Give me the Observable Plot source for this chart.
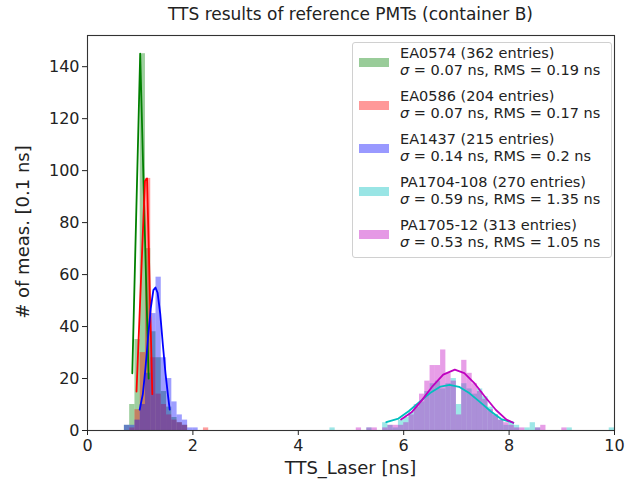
<!DOCTYPE html>
<html><head><meta charset="utf-8">
<script src="https://cdn.jsdelivr.net/npm/d3@7"></script>
<script src="https://cdn.jsdelivr.net/npm/@observablehq/plot@0.6"></script>
<style>
body{margin:0;background:#fff;font-family:"DejaVu Sans",sans-serif;}
#wrap{position:relative;width:628px;height:486px;overflow:hidden;}
#title{position:absolute;left:87px;width:527px;top:0;height:26px;line-height:28px;text-align:center;font-size:17px;color:#222;white-space:nowrap;}
#chart{position:absolute;left:0;top:26px;}
#xlabel{position:absolute;left:87px;width:527px;top:457px;text-align:center;font-size:18px;line-height:22px;color:#222;white-space:nowrap;}
#ylabel{position:absolute;left:23px;top:232px;transform:translate(-50%,-50%) rotate(-90deg);font-size:18px;line-height:22px;color:#222;white-space:nowrap;}
#legend{position:absolute;left:352px;top:42px;width:260px;height:216px;border:1px solid #d0d0d0;border-radius:3px;box-sizing:border-box;background:rgba(255,255,255,0.8);}
.entry{position:absolute;left:0;width:100%;height:34px;}
.patch{position:absolute;left:6px;top:13px;width:30px;height:9px;}
.txt{position:absolute;left:47px;top:0;font-size:14.5px;line-height:17px;white-space:nowrap;color:#222;}
</style>
</head><body>
<div id="wrap">
  <div id="title">TTS results of reference PMTs (container B)</div>
  <div id="chart"></div>
  <div id="xlabel">TTS_Laser [ns]</div>
  <div id="ylabel"># of meas. [0.1 ns]</div>
  <div id="legend"></div>
</div>
<script>
// ---- data ----
const binWidth = 0.1;
const xTicks = [0, 2, 4, 6, 8, 10];
const yTicks = [0, 20, 40, 60, 80, 100, 120, 140];

const names = ["EA0574 (362 entries)", "EA0586 (204 entries)", "EA1437 (215 entries)", "PA1704-108 (270 entries)", "PA1705-12 (313 entries)"];
const stats = ["0.07 ns, RMS = 0.19 ns", "0.07 ns, RMS = 0.17 ns", "0.14 ns, RMS = 0.2 ns", "0.59 ns, RMS = 1.35 ns", "0.53 ns, RMS = 1.05 ns"];
const colors = ["#008000", "#ff0000", "#0000ff", "#00bfbf", "#bf00bf"];

// histogram bin starts and counts
const greenStarts = [0.7, 0.8, 0.9, 1.0, 1.1, 1.2, 1.3, 1.4, 1.5, 1.6, 1.7, 1.8];
const greenCounts = [2, 10, 35, 145, 70, 38, 28, 15, 9, 5, 3, 2];
const redStarts = [0.8, 0.9, 1.0, 1.1, 1.2, 1.3, 1.4, 1.5, 1.6, 1.7, 1.8, 2.2];
const redCounts = [1, 8, 30, 97, 28, 14, 10, 6, 4, 3, 2, 1];
const blueStarts = [0.7, 0.8, 0.9, 1.0, 1.1, 1.2, 1.3, 1.4, 1.5, 1.6, 1.7, 1.8, 1.9, 2.0];
const blueCounts = [2, 2, 4, 10, 22, 45, 59, 28, 20, 11, 6, 4, 1, 1];
const cyanStarts = [4.6, 5.3, 5.6, 5.7, 5.8, 5.9, 6.0, 6.1, 6.2, 6.3, 6.4, 6.5, 6.6, 6.7, 6.8, 6.9, 7.0, 7.1, 7.2, 7.3, 7.4, 7.5, 7.6, 7.7, 7.8, 7.9, 8.0, 8.1, 8.3, 8.4, 8.5, 9.1, 9.9];
const cyanCounts = [1, 1, 3, 2, 1, 4, 5, 7, 9, 11, 15, 18, 19, 16, 18, 20, 10, 18, 16, 14, 16, 13, 9, 6, 4, 2, 3, 2, 1, 3, 1, 1, 1];
const magentaStarts = [5.1, 5.3, 5.4, 5.6, 5.7, 5.8, 5.9, 6.0, 6.1, 6.2, 6.3, 6.4, 6.5, 6.6, 6.7, 6.8, 6.9, 7.0, 7.1, 7.2, 7.3, 7.4, 7.5, 7.6, 7.7, 7.8, 7.9, 8.0, 8.1, 8.2, 8.5, 8.6, 9.0];
const magentaCounts = [1, 1, 1, 1, 2, 2, 2, 3, 6, 10, 14, 19, 25, 25, 31, 22, 19, 6, 27, 22, 18, 15, 12, 8, 6, 4, 3, 2, 1, 1, 1, 2, 1];

// Gaussian fit curves
const greenFitX = [0.85, 1.0, 1.16];
const greenFitY = [22, 145, 20];
const redFitX = [0.93, 1.09, 1.13, 1.23];
const redFitY = [15, 96, 97, 14];
const blueFitX = [0.99, 1.05, 1.10, 1.15, 1.20, 1.25, 1.29, 1.33, 1.38, 1.43, 1.48, 1.53, 1.56];
const blueFitY = [8, 14, 24, 36, 47, 54, 55, 53, 45, 33, 22, 13, 8];
const cyanFitX = [5.67, 5.9, 6.1, 6.3, 6.5, 6.7, 6.87, 7.05, 7.25, 7.45, 7.65, 7.85, 8.08];
const cyanFitY = [3.2, 4.6, 7.5, 11, 14.4, 16.9, 17.6, 16.8, 14.3, 10.9, 7.4, 4.4, 3];
const magentaFitX = [5.95, 6.15, 6.35, 6.55, 6.75, 6.97, 7.15, 7.35, 7.55, 7.75, 7.95, 8.08];
const magentaFitY = [4.2, 7.0, 11.8, 17.1, 21.5, 23.4, 22.1, 18.0, 12.8, 7.9, 4.2, 3.0];

// ---- build tables ----
const hists = [
  [greenStarts, greenCounts], [redStarts, redCounts], [blueStarts, blueCounts],
  [cyanStarts, cyanCounts], [magentaStarts, magentaCounts]
].map(([s, c]) => s.map((x, i) => ({x1: x, x2: x + binWidth, count: c[i]})));
const fits = [
  [greenFitX, greenFitY], [redFitX, redFitY], [blueFitX, blueFitY],
  [cyanFitX, cyanFitY], [magentaFitX, magentaFitY]
].map(([xs, ys]) => xs.map((x, i) => ({x, y: ys[i]})));

const plot = Plot.plot({
  width: 628,
  height: 460,
  marginLeft: 87,
  marginRight: 14,
  marginTop: 9,
  marginBottom: 56,
  style: {fontFamily: "DejaVu Sans, sans-serif", fontSize: "16px", color: "#222", background: "white"},
  x: {domain: [0, 10]},
  y: {domain: [0, 152]},
  marks: [
    ...hists.map((h, k) => Plot.rect(h, {x1: "x1", x2: "x2", y1: 0, y2: "count", fill: colors[k], fillOpacity: 0.38})),
    ...fits.map((f, k) => Plot.line(f, {x: "x", y: "y", stroke: colors[k], strokeWidth: 1.8})),
    Plot.frame({stroke: "#333", strokeWidth: 1.1}),
    Plot.axisX({ticks: xTicks, tickFormat: d => String(d), tickSize: 5, tickPadding: 4, label: null, fontSize: 16}),
    Plot.axisY({ticks: yTicks, tickFormat: d => String(d), tickSize: 5, tickPadding: 3, label: null, fontSize: 16})
  ]
});
document.getElementById("chart").appendChild(plot);

// ---- legend ----
const legend = document.getElementById("legend");
names.forEach((n, k) => {
  const e = document.createElement("div");
  e.className = "entry";
  e.style.top = (2 + k * 43) + "px";
  const p = document.createElement("div");
  p.className = "patch";
  p.style.background = colors[k];
  p.style.opacity = 0.4;
  const t = document.createElement("div");
  t.className = "txt";
  t.innerHTML = n + "<br><i>σ</i> = " + stats[k];
  e.appendChild(p); e.appendChild(t);
  legend.appendChild(e);
});
</script>
</body></html>
